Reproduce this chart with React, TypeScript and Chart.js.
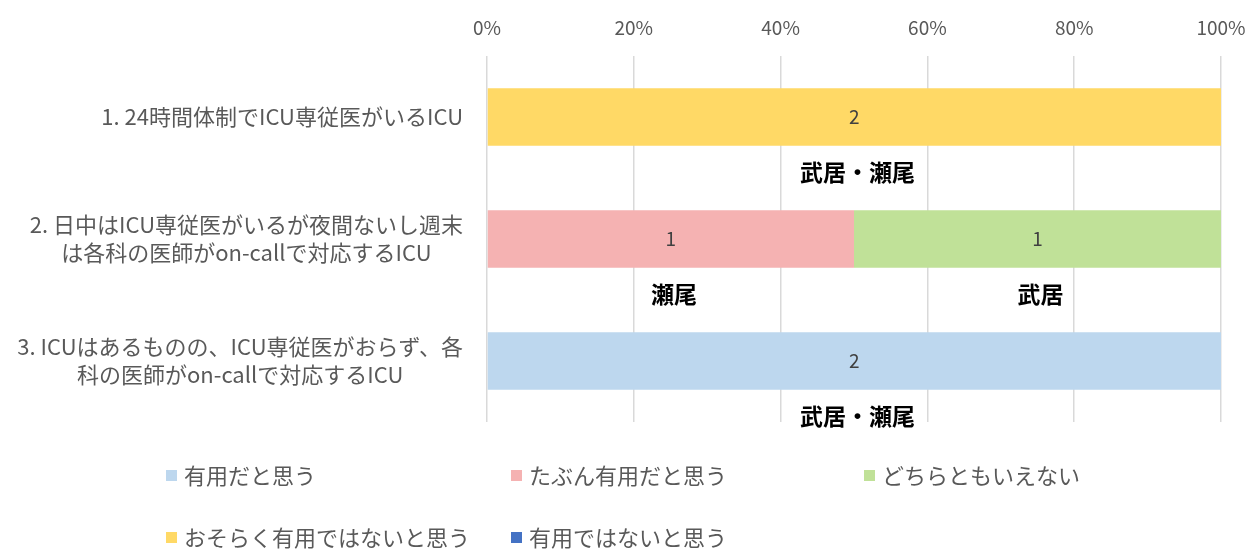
import React, { useEffect, useRef } from "react";
import { Chart, registerables } from "chart.js";
Chart.register(...registerables);

const categoryLines: string[][] = [
  ["1. 24時間体制でICU専従医がいるICU"],
  ["2. 日中はICU専従医がいるが夜間ないし週末", "は各科の医師がon-callで対応するICU"],
  ["3. ICUはあるものの、ICU専従医がおらず、各", "科の医師がon-callで対応するICU"],
];
const seriesNames = [
  "有用だと思う",
  "たぶん有用だと思う",
  "どちらともいえない",
  "おそらく有用ではないと思う",
  "有用ではないと思う",
];
const seriesColors = ["#BDD7EE", "#F5B2B2", "#C0E198", "#FFD966", "#4472C4"];

const usefulCounts = [0, 0, 2];
const probablyUsefulCounts = [0, 1, 0];
const neutralCounts = [0, 1, 0];
const probablyNotCounts = [2, 0, 0];
const notUsefulCounts = [0, 0, 0];

const noteUseful = ["", "", "武居・瀬尾"];
const noteProbablyUseful = ["", "瀬尾", ""];
const noteNeutral = ["", "武居", ""];
const noteProbablyNot = ["武居・瀬尾", "", ""];
const noteNotUseful = ["", "", ""];

const xTickMax = 100;
const xTickStep = 20;

const FONT = "'Noto Sans CJK JP', 'Noto Sans', sans-serif";

export default function App() {
  const ref = useRef<HTMLCanvasElement | null>(null);
  useEffect(() => {
    const counts = [usefulCounts, probablyUsefulCounts, neutralCounts, probablyNotCounts, notUsefulCounts];
    const notes = [noteUseful, noteProbablyUseful, noteNeutral, noteProbablyNot, noteNotUseful];
    const totals = categoryLines.map((_, i) => counts.reduce((s, c) => s + c[i], 0));
    const datasets = seriesNames.map((name, k) => ({
      label: name,
      data: counts[k].map((v, i) => (totals[i] ? (v / totals[i]) * 100 : 0)),
      backgroundColor: seriesColors[k],
      borderWidth: 0,
      barPercentage: 0.47,
      categoryPercentage: 1,
    }));

    const overlay = {
      id: "overlay",
      afterDatasetsDraw(chart: any) {
        const ctx = chart.ctx;
        const yScale = chart.scales.y;
        const area = chart.chartArea;
        ctx.save();
        // category labels
        ctx.font = `22px ${FONT}`;
        ctx.fillStyle = "#595959";
        ctx.textBaseline = "middle";
        ctx.textAlign = "center";
        categoryLines.forEach((lines, i) => {
          const cy = yScale.getPixelForValue(i);
          const widest = Math.max(...lines.map((l) => ctx.measureText(l).width));
          const cx = area.left - 24 - widest / 2;
          lines.forEach((l, j) => {
            ctx.fillText(l, cx, cy + (j - (lines.length - 1) / 2) * 28);
          });
        });
        // value labels and notes
        chart.data.datasets.forEach((ds: any, k: number) => {
          const meta = chart.getDatasetMeta(k);
          meta.data.forEach((el: any, i: number) => {
            if (!counts[k][i]) return;
            const c = el.getCenterPoint();
            ctx.font = `19px ${FONT}`;
            ctx.fillStyle = "#404040";
            ctx.fillText(String(counts[k][i]), c.x, c.y);
            if (notes[k][i]) {
              ctx.font = `bold 23px ${FONT}`;
              ctx.fillStyle = "#000000";
              ctx.fillText(notes[k][i], c.x + 3, c.y + 55);
            }
          });
        });
        // legend
        const cols = [166, 511, 864];
        const rows = [476, 538];
        ctx.font = `22px ${FONT}`;
        ctx.textAlign = "left";
        seriesNames.forEach((name, k) => {
          const x = cols[k % 3];
          const y = rows[Math.floor(k / 3)];
          ctx.fillStyle = seriesColors[k];
          ctx.fillRect(x, y - 6, 11, 11);
          ctx.fillStyle = "#595959";
          ctx.fillText(name, x + 18, y);
        });
        ctx.restore();
      },
    };

    const chart = new Chart(ref.current as HTMLCanvasElement, {
      type: "bar",
      data: { labels: categoryLines.map((l) => l.join("")), datasets },
      options: {
        indexAxis: "y",
        animation: false,
        responsive: false,
        maintainAspectRatio: false,
        layout: { padding: { left: 0, right: 35, top: 0, bottom: 127 } },
        plugins: { legend: { display: false }, tooltip: { enabled: false } },
        scales: {
          x: {
            position: "top",
            stacked: true,
            min: 0,
            max: xTickMax,
            ticks: {
              stepSize: xTickStep,
              callback: (v: any) => `${v}%`,
              color: "#595959",
              font: { family: FONT, size: 19 },
              padding: 17,
            },
            grid: { color: "#d9d9d9", lineWidth: 1.5, drawTicks: false },
            border: { display: false },
            afterFit: (s: any) => {
              s.height = 56;
              s.paddingLeft = 0;
              s.paddingRight = 0;
            },
          },
          y: {
            stacked: true,
            ticks: { display: false },
            grid: { display: false, drawTicks: false },
            border: { display: false },
            afterFit: (s: any) => {
              s.width = 487;
            },
          },
        },
      },
      plugins: [overlay],
    } as any);
    return () => chart.destroy();
  }, []);

  return (
    <div style={{ position: "absolute", left: 0, top: 0, width: 1256, height: 549 }}>
      <canvas ref={ref} width={1256} height={549} style={{ display: "block" }} />
    </div>
  );
}
